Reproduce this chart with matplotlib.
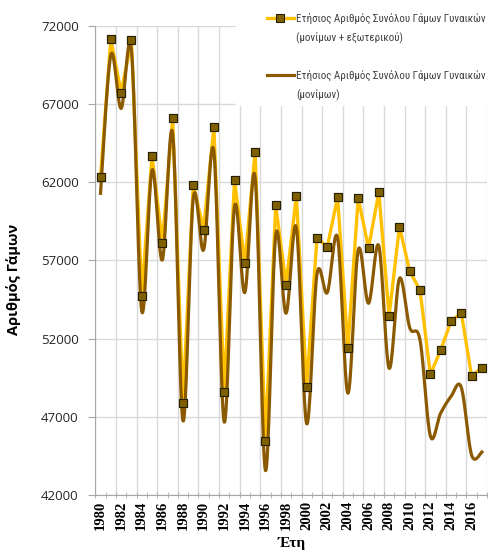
import matplotlib.pyplot as plt
from matplotlib import font_manager
from matplotlib.patches import Rectangle
import numpy as np

years = list(range(1980, 2018))
year_labels = [str(y) for y in range(1980, 2018, 2)]

# Ετήσιος αριθμός γάμων (μονίμων + εξωτερικού)
total = [62350, 71150, 67750, 71100, 54750, 63700, 58100, 66100, 47850, 61850,
         58980, 65530, 48600, 62150, 56820, 63950, 45420, 60540, 55460, 61130,
         48890, 58460, 57860, 61050, 51390, 61000, 57790, 61370, 53470, 59160,
         56310, 55090, 49710, 51260, 53100, 53650, 49610, 50130]

# Ετήσιος αριθμός γάμων (μονίμων)
permanent = [61300, 70150, 66730, 70460, 53760, 62790, 57030, 65130, 46730, 60980,
             57670, 63960, 46650, 60440, 54940, 62320, 43550, 58630, 53620, 59100,
             46550, 56110, 54940, 58450, 48500, 57670, 54260, 57940, 50100, 55850,
             52700, 51900, 45770, 47230, 48290, 48880, 44550, 44740]

label_head = "Ετήσιος Αριθμός Συνόλου Γάμων Γυναικών"
label_tails = ["(μονίμων + εξωτερικού)", "(μονίμων)"]


def smooth(xs, ys, n=20):
    # catmull-rom like excel's smoothed line
    xs = np.asarray(xs, float)
    ys = np.asarray(ys, float)
    px = np.concatenate([[xs[0]], xs, [xs[-1]]])
    py = np.concatenate([[ys[0]], ys, [ys[-1]]])
    out_x, out_y = [], []
    t = np.linspace(0, 1, n)
    for i in range(1, len(px) - 2):
        p0 = np.array([px[i], py[i]])
        p3 = np.array([px[i + 1], py[i + 1]])
        c1 = p0 + (np.array([px[i + 1], py[i + 1]]) - np.array([px[i - 1], py[i - 1]])) / 6
        c2 = p3 - (np.array([px[i + 2], py[i + 2]]) - np.array([px[i], py[i]])) / 6
        b = ((1 - t)[:, None] ** 3 * p0 + 3 * ((1 - t) ** 2 * t)[:, None] * c1
             + 3 * ((1 - t) * t ** 2)[:, None] * c2 + (t ** 3)[:, None] * p3)
        out_x.extend(b[:, 0])
        out_y.extend(b[:, 1])
    return out_x, out_y


# calibri-ish narrow face if there is one
names = {f.name for f in font_manager.fontManager.ttflist}
fam = "Lato"
for cand in ["Liberation Sans Narrow", "Roboto Condensed", "Open Sans Condensed",
             "Noto Sans Condensed", "Lato"]:
    if cand in names:
        fam = cand
        break

fig = plt.figure(figsize=(4.89, 5.56), dpi=100)
ax = fig.add_axes([0.195, 0.11, 0.801, 0.843])

grid_c = "#d9d9d9"
for x in np.arange(1979.5, 2018, 2):
    ax.axvline(x, color=grid_c, lw=1.0, zorder=0)
ax.set_yticks(range(42000, 72001, 5000))
ax.yaxis.grid(True, color=grid_c, lw=1.0, zorder=0)
ax.set_axisbelow(True)

orange = "#FFC000"
brown = "#8B5A00"
mk = dict(marker="s", markersize=6, markerfacecolor="#7F6000",
          markeredgecolor="#262000", markeredgewidth=0.8)
h1, = ax.plot(years, total, color=orange, lw=2.4, zorder=2, **mk)
sx, sy = smooth(years, permanent)
h2, = ax.plot(sx, sy, color=brown, lw=2.3, zorder=3)
ax.plot(years, total, ls="none", zorder=4, **mk)

ax.set_xlim(1979.5, 2017.5)
ax.set_ylim(42000, 72000)

ax.set_xticks(range(1980, 2018, 2))
ax.set_xticklabels(year_labels, rotation=90, family="Liberation Serif",
                   fontweight="bold", fontsize=10.5)
ax.set_xticks(np.arange(1979.5, 2018, 1), minor=True)
ax.tick_params(axis="x", which="major", length=0, pad=4)
ax.tick_params(axis="x", which="minor", length=5, direction="inout", color="#a6a6a6")
ax.tick_params(axis="y", length=5, color="#a6a6a6", labelsize=9.5, pad=7)
for lab in ax.get_yticklabels():
    lab.set_family("Open Sans")
    lab.set_color("#262626")

for side in ["top", "right"]:
    ax.spines[side].set_visible(False)
ax.spines["left"].set_color("#a6a6a6")
ax.spines["bottom"].set_color("#a6a6a6")

ax.set_ylabel("Αριθμός Γάμων", family="Open Sans", fontweight="bold",
              fontsize=10.5)
ax.yaxis.set_label_coords(-0.19, 0.46)
ax.set_xlabel("Έτη", family="Liberation Serif", fontweight="bold",
              fontsize=11, labelpad=5)

# white box behind legend, like the excel legend area
ax.add_patch(Rectangle((0.36, 0.83), 0.7, 0.25, transform=ax.transAxes,
                       facecolor="white", edgecolor="none", zorder=6,
                       clip_on=False))

# legend font: fit the long line into the space to the right edge
probe = fig.text(0, 0, label_head, fontfamily=fam, fontsize=10)
fig.canvas.draw()
w = probe.get_window_extent().width
probe.remove()
leg_size = min(8.6, 10 * 190 / w)

legs = []
for h, yc in [(h1, 18), (h2, 75)]:
    lg = ax.legend([h], [label_head], loc="center left",
                   bbox_to_anchor=(0.535, 1 - yc / 556), bbox_transform=fig.transFigure,
                   frameon=False, handlelength=2.4, handletextpad=0.25,
                   borderpad=0.0, prop={"family": fam, "size": leg_size})
    lg.set_zorder(10)
    for t in lg.get_texts():
        t.set_color("#404040")
    legs.append(lg)
ax.legend_ = None
for lg in legs:
    ax.add_artist(lg)

fig.canvas.draw()
inv = fig.transFigure.inverted()
for lg, tail in zip(legs, label_tails):
    bb = lg.get_texts()[0].get_window_extent()
    x0, yc = inv.transform((bb.x0, (bb.y0 + bb.y1) / 2 - 20))
    fig.text(x0, yc, tail, ha="left", va="center", color="#404040",
             fontfamily=fam, fontsize=leg_size, zorder=11)

fig.savefig("out.png", dpi=100)
